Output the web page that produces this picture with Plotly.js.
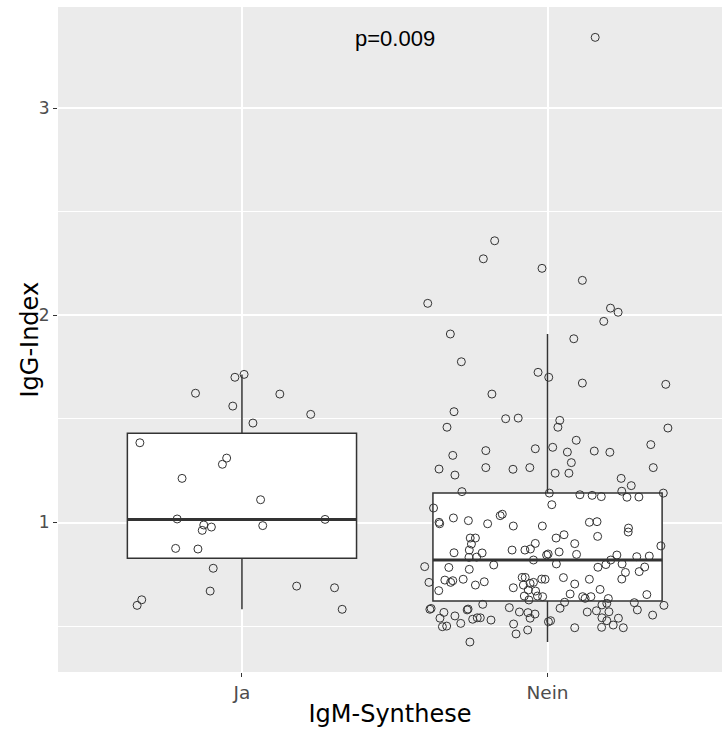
<!DOCTYPE html>
<html>
<head>
<meta charset="utf-8">
<script src="https://cdn.plot.ly/plotly-3.0.1.min.js"></script>
<style>
  html, body { margin: 0; padding: 0; background: #ffffff; }
  #chart { width: 722px; height: 729px; }
</style>
</head>
<body>
<div id="chart"></div>
<script>
// ---- data ----
const categories = ['Ja', 'Nein'];

// IgG-Index values and horizontal jitter offsets (category units) of the points
const jaValues = [1.701,1.715,1.624,1.620,1.562,1.522,1.480,1.385,1.311,1.281,1.213,1.110,1.017,1.015,0.988,0.978,0.962,0.985,0.875,0.872,0.779,0.669,0.693,0.685,0.627,0.600,0.581];
const jaJitter = [-0.023,0.007,-0.152,0.124,-0.030,0.225,0.036,-0.334,-0.050,-0.064,-0.196,0.061,-0.212,0.272,-0.125,-0.100,-0.130,0.068,-0.217,-0.144,-0.094,-0.104,0.179,0.303,-0.328,-0.343,0.328];

const neinValues = [
3.342,2.360,2.273,2.227,2.169,2.058,2.035,2.015,1.971,1.910,
1.887,1.776,1.725,1.701,1.673,1.667,1.620,1.535,1.501,1.504,
1.493,1.460,1.460,1.456,1.397,1.376,1.347,1.356,1.363,1.340,
1.345,1.339,1.324,1.289,1.258,1.265,1.257,1.265,1.265,1.229,
1.238,1.238,1.213,1.178,1.149,1.142,1.134,1.131,1.125,1.151,
1.122,1.123,1.142,1.070,1.086,1.022,1.009,0.994,1.001,0.994,
1.033,1.040,0.983,0.983,1.001,1.004,0.973,0.954,0.933,0.925,
0.941,0.898,0.899,0.867,0.872,0.867,0.854,0.853,0.925,0.925,
0.896,0.867,0.843,0.848,0.858,0.846,0.819,0.833,0.832,0.800,
0.795,0.887,0.787,0.783,0.774,0.784,0.797,0.843,0.819,0.800,
0.835,0.785,0.838,0.763,0.759,0.711,0.671,0.722,0.711,0.719,
0.726,0.698,0.714,0.685,0.735,0.735,0.698,0.706,0.711,0.727,
0.726,0.645,0.674,0.669,0.645,0.642,0.626,0.734,0.703,0.726,
0.727,0.677,0.655,0.642,0.634,0.642,0.633,0.652,0.581,0.585,
0.566,0.538,0.497,0.500,0.549,0.513,0.578,0.582,0.533,0.540,
0.540,0.605,0.529,0.423,0.589,0.568,0.565,0.558,0.538,0.510,
0.481,0.462,0.521,0.526,0.586,0.615,0.492,0.568,0.574,0.602,
0.540,0.610,0.569,0.526,0.494,0.505,0.538,0.492,0.613,0.578,
0.553,0.600];
const neinJitter = [
0.156,-0.173,-0.210,-0.018,0.114,-0.392,0.206,0.231,0.184,-0.318,
0.086,-0.282,-0.031,0.004,0.114,0.387,-0.182,-0.306,-0.137,-0.096,
0.040,0.034,-0.329,0.394,0.094,0.338,-0.202,-0.040,0.017,0.065,
0.153,0.204,-0.310,0.078,-0.355,-0.202,-0.113,-0.058,0.346,-0.303,
0.025,0.070,0.241,0.274,-0.280,0.006,0.106,0.146,0.176,0.243,
0.260,0.299,0.379,-0.373,0.014,-0.308,-0.259,-0.353,-0.355,-0.196,
-0.155,-0.148,-0.112,-0.017,0.137,0.162,0.265,0.264,0.164,0.028,
0.054,0.089,-0.040,-0.074,-0.056,-0.116,-0.306,-0.214,-0.253,-0.236,
-0.249,-0.256,-0.003,0.002,0.038,0.095,-0.046,-0.232,-0.257,0.029,
-0.176,0.371,-0.402,-0.323,-0.256,0.165,0.191,0.227,0.207,0.244,
0.292,0.318,0.333,0.300,0.255,-0.388,-0.356,-0.336,-0.317,-0.310,
-0.276,-0.236,-0.207,-0.112,-0.083,-0.073,-0.079,-0.057,-0.046,-0.019,
-0.008,-0.076,-0.063,-0.039,-0.033,-0.016,-0.061,0.052,0.089,0.137,
0.243,0.172,0.074,0.115,0.123,0.142,0.199,0.325,-0.385,-0.381,
-0.339,-0.352,-0.344,-0.330,-0.303,-0.284,-0.263,-0.260,-0.245,-0.230,
-0.220,-0.212,-0.185,-0.254,-0.125,-0.092,-0.064,-0.041,-0.057,-0.111,
-0.065,-0.103,0.003,0.010,0.041,0.056,0.089,0.130,0.160,0.178,
0.178,0.194,0.201,0.194,0.177,0.215,0.232,0.248,0.284,0.294,
0.344,0.381];

// box statistics per category (Ja, Nein)
const boxQ1     = [0.828, 0.621];
const boxMedian = [1.015, 0.819];
const boxQ3     = [1.431, 1.142];
const boxLower  = [0.581, 0.423];
const boxUpper  = [1.715, 1.910];

const pLabel = 'p=0.009';
const xTitle = 'IgM-Synthese';
const yTitle = 'IgG-Index';

// ---- styling ----
const BOX_W = 0.75;
const positions = categories.map((c, i) => i + 1);
const lineCol = '#333333';

const traces = [];
categories.forEach((c, i) => {
  traces.push({
    type: 'box',
    x: [positions[i]],
    q1: [boxQ1[i]], median: [boxMedian[i]], q3: [boxQ3[i]],
    lowerfence: [boxLower[i]], upperfence: [boxUpper[i]],
    width: BOX_W,
    whiskerwidth: 0,
    boxpoints: false,
    fillcolor: '#ffffff',
    line: { color: lineCol, width: 1.5 },
    hoverinfo: 'skip',
    showlegend: false
  });
});
// thicker median bars (ggplot style)
categories.forEach((c, i) => {
  traces.push({
    type: 'scatter', mode: 'lines',
    x: [positions[i] - BOX_W / 2, positions[i] + BOX_W / 2],
    y: [boxMedian[i], boxMedian[i]],
    line: { color: lineCol, width: 3 },
    hoverinfo: 'skip', showlegend: false
  });
});
// jittered points
const groups = [[jaValues, jaJitter], [neinValues, neinJitter]];
groups.forEach((g, i) => {
  traces.push({
    type: 'scatter', mode: 'markers',
    x: g[1].map(j => positions[i] + j),
    y: g[0],
    marker: { symbol: 'circle-open', size: 8, color: '#333333', line: { width: 1, color: '#333333' } },
    hoverinfo: 'skip', showlegend: false
  });
});

const layout = {
  width: 722, height: 729,
  margin: { l: 58, r: 0, t: 7, b: 57, pad: 0 },
  paper_bgcolor: '#ffffff',
  plot_bgcolor: '#EBEBEB',
  showlegend: false,
  xaxis: {
    range: [0.398, 2.571],
    tickmode: 'array', tickvals: positions, ticktext: categories,
    showgrid: true, gridcolor: '#ffffff', gridwidth: 2,
    zeroline: false, showline: false,
    ticks: 'outside', ticklen: 4, tickwidth: 1, tickcolor: lineCol,
    tickfont: { family: 'DejaVu Sans', size: 18.5, color: '#4D4D4D' },
    title: { text: xTitle, font: { family: 'DejaVu Sans', size: 24, color: '#000000' }, standoff: 2 }
  },
  yaxis: {
    range: [0.2783, 3.4886],
    tickmode: 'linear', tick0: 0, dtick: 1,
    showgrid: true, gridcolor: '#ffffff', gridwidth: 2,
    minor: { dtick: 0.5, tick0: 0, showgrid: true, gridcolor: '#ffffff', gridwidth: 1, ticks: '' },
    zeroline: false, showline: false,
    ticks: 'outside', ticklen: 4, tickwidth: 1, tickcolor: lineCol,
    tickfont: { family: 'DejaVu Sans', size: 17, color: '#4D4D4D' }
  },
  annotations: [{
    xref: 'x', yref: 'y', x: 1.5, y: 3.335,
    text: pLabel, showarrow: false,
    xanchor: 'center', yanchor: 'middle',
    font: { family: 'Liberation Sans', size: 22, color: '#000000' }
  }, {
    xref: 'paper', yref: 'paper', x: 0, y: 0.5,
    xanchor: 'center', yanchor: 'middle', xshift: -29,
    textangle: -90, showarrow: false,
    text: yTitle,
    font: { family: 'DejaVu Sans', size: 24, color: '#000000' }
  }]
};

Plotly.newPlot('chart', traces, layout, { staticPlot: true, displayModeBar: false });
</script>
</body>
</html>
